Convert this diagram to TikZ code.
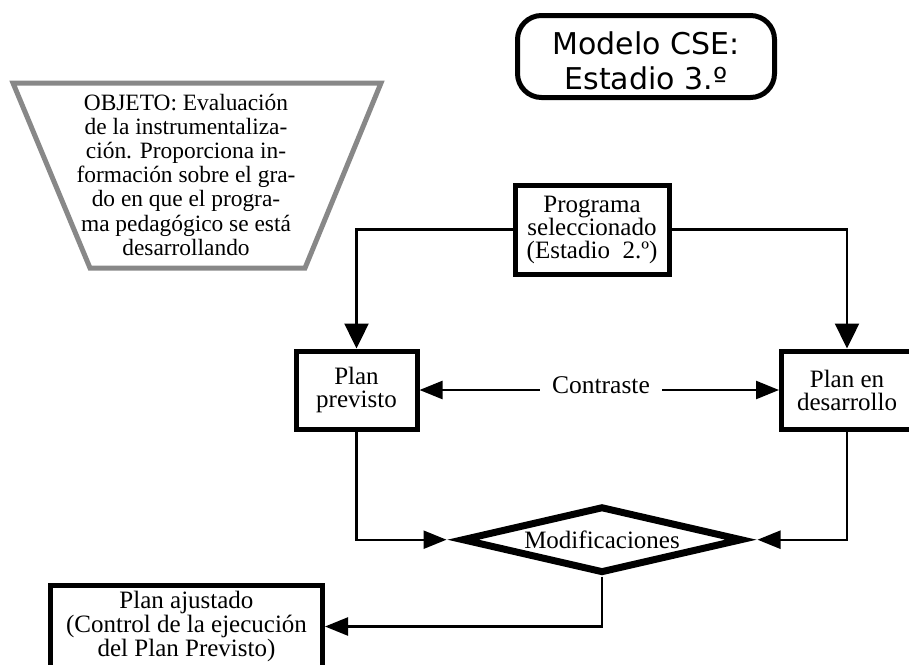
\documentclass[tikz,border=0pt]{standalone}
\usepackage{fontspec}
\setmainfont{Liberation Serif}
\newfontfamily\headfont{DejaVu Sans}
\usetikzlibrary{arrows.meta,shapes.geometric,calc}
\definecolor{framegray}{RGB}{136,136,136}
\begin{document}
\begin{tikzpicture}[x=1pt,y=-1pt,
  stage/.style={draw=black,line width=5pt,fill=white,inner sep=0pt,align=center,
    font=\fontsize{25}{23}\selectfont},
  link/.style={line width=2.4pt},
  downtip/.style={link,-{Triangle[length=25pt,width=24pt]}},
  sidetip/.style={link,-{Triangle[length=23pt,width=18pt]}},
]
\useasboundingbox (0,0) rectangle (909,664);
\clip (0,0) rectangle (909,664);

% heading box
\node[draw=black,line width=5pt,rounded corners=24pt,minimum width=257pt,
  minimum height=82pt,inner sep=0pt,align=center,
  font=\headfont\fontsize{30}{35}\selectfont] (title) at (646,56.5)
  {\rule{0pt}{32pt}Modelo CSE:\\Estadio 3.º};

% objective panel (inverted trapezoid)
\draw[framegray,line width=5pt,line join=miter]
  (13,83) -- (381,83) -- (305,268) -- (90,268) -- cycle;
\node[align=center,inner sep=0pt,font=\fontsize{23.4}{24.2}\selectfont] (goal)
  at (186,174.6)
  {OBJETO: Evaluación\\de la instrumentaliza-\\ción. Proporciona in-\\formación sobre el gra-\\do en que el progra-\\ma pedagógico se está\\desarrollando};

% stages
\node[stage,minimum width=154pt,minimum height=89pt] (prog) at (592,229.5)
  {Programa\\seleccionado\\(Estadio\ \ 2.º)};
\node[stage,minimum width=121pt,minimum height=78pt] (prev) at (356.5,390)
  {Plan\\previsto};
\node[stage,minimum width=131pt,minimum height=78pt] (dev) at (847,390)
  {Plan en\\desarrollo};
\node[stage,font=\fontsize{25}{24}\selectfont,minimum width=272pt,
  minimum height=82pt] (adj) at (186.5,626.5)
  {Plan ajustado\\(Control de la ejecución\\del Plan Previsto)};

% decision
\node[diamond,draw=black,line width=7pt,line join=miter,fill=white,inner sep=0pt,
  aspect=4.2,minimum width=280.8pt,minimum height=66.8pt,
  font=\fontsize{25}{25}\selectfont] (mod) at (602,539.7) {Modificaciones};
\coordinate (modW) at ($(mod.center)+(-155.5,0)$);
\coordinate (modE) at ($(mod.center)+(155.5,0)$);
\coordinate (modS) at ($(mod.center)+(0,37)$);

\node[anchor=base,inner xsep=12pt,font=\fontsize{25.5}{25.5}\selectfont] (con)
  at (601,393) {Contraste};

% connectors
\draw[downtip] (prog.west) -| (prev.north);
\draw[downtip] (prog.east) -| (dev.north);
\draw[sidetip] (con.west |- prev.east) -- (prev.east);
\draw[sidetip] (con.east |- dev.west) -- (dev.west);
\draw[sidetip] (prev.south) |- (modW);
\draw[sidetip] (dev.south) |- (modE);
\draw[sidetip] (modS) |- (adj.east);
\end{tikzpicture}
\end{document}
